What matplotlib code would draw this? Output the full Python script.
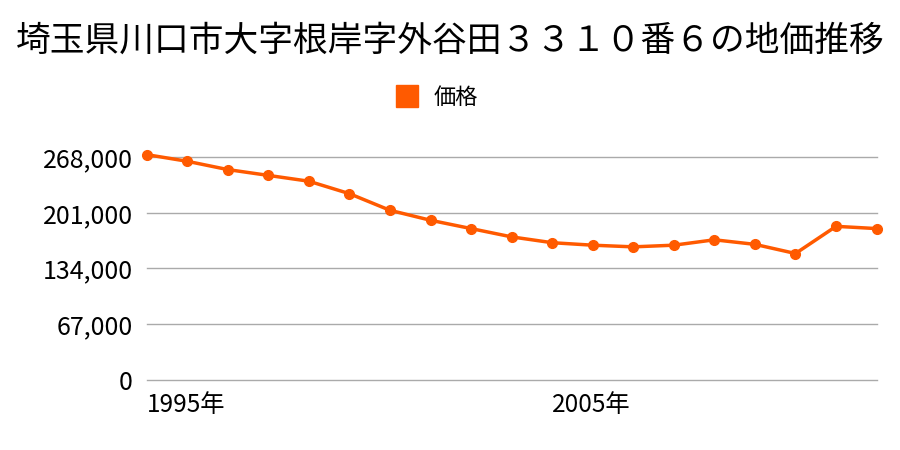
import numpy as np
import matplotlib
matplotlib.use("Agg")
import matplotlib.pyplot as plt
from matplotlib.lines import Line2D

plt.rcParams['font.family'] = ['Noto Sans CJK JP', 'DejaVu Sans']

title = '埼玉県川口市大字根岸字外谷田３３１０番６の地価推移'
years = np.arange(1995, 2014)
price = [271000, 263000, 253000, 246000, 239000, 224000, 204000, 192000,
         182000, 172000, 165000, 162000, 160000, 162000, 168500, 163000,
         152000, 184700, 182000]
yticks = [0, 67000, 134000, 201000, 268000]
xticks = [1995, 2005]

line_col = '#ff5a00'

fig = plt.figure(figsize=(9, 4.5), dpi=100)
ax = fig.add_axes([0.163, 0.156, 0.811, 0.517])

ax.plot(years, price, color=line_col, lw=2.5, marker='o', ms=7, clip_on=False, zorder=3)

ax.set_xlim(1995, 2013)
ax.set_ylim(0, 280000)
ax.set_yticks(yticks)
ax.set_yticklabels([f'{v:,}' for v in yticks], fontsize=18)
ax.set_xticks(xticks)
ax.set_xticklabels([f'{y}年' for y in xticks], fontsize=17.5, ha='left')

ax.grid(axis='y', color='#aaaaaa', lw=1)
for gl in ax.get_ygridlines():
    gl.set_clip_on(False)
ax.set_axisbelow(True)
for s in ax.spines.values():
    s.set_visible(False)
ax.tick_params(length=0)
ax.tick_params(axis='y', pad=10)
ax.tick_params(axis='x', pad=9)

fig.text(0.5, 0.908, title, ha='center', va='center', fontsize=25)

handle = Line2D([], [], marker='s', color=line_col, ls='none', ms=16)
fig.legend([handle], ['価格'], loc='center', bbox_to_anchor=(0.479, 0.783),
           frameon=False, fontsize=16, handletextpad=0.2)

fig.savefig('out.png')
